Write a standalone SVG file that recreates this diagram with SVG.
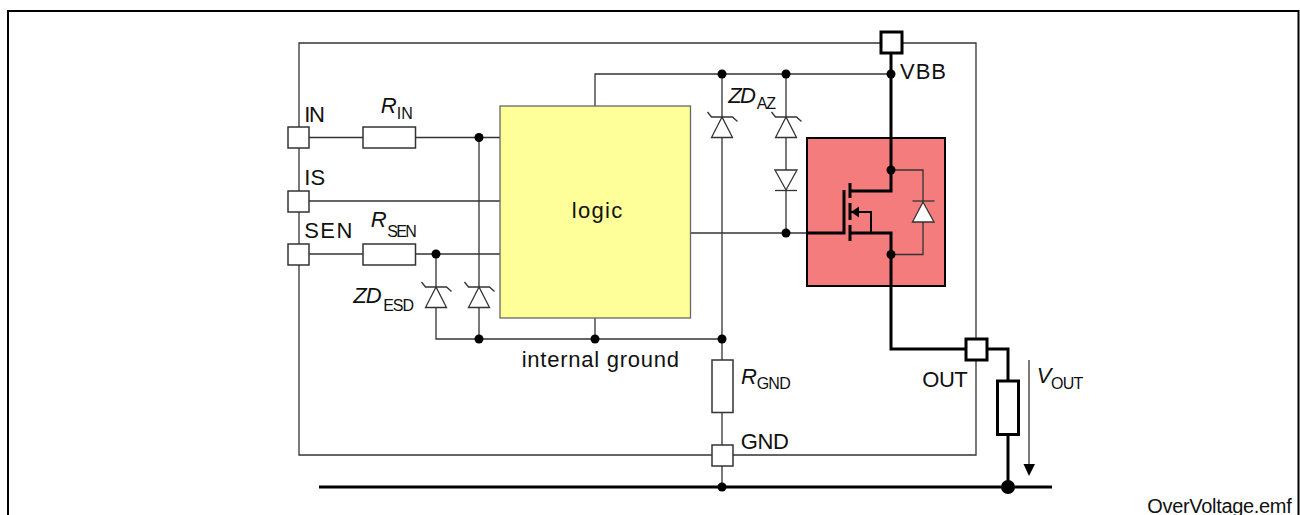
<svg xmlns="http://www.w3.org/2000/svg" width="1300" height="515" viewBox="0 0 1300 515">
<style>
text{font-family:"Liberation Sans",Arial,sans-serif;font-size:22px;fill:#111}
.i{font-style:italic}
.s{font-size:16px}
.f{font-size:20px}
.w{fill:none;stroke:#333;stroke-width:1.3}
.t{fill:none;stroke:#000;stroke-width:3}
.m{fill:none;stroke:#000;stroke-width:2}
.d{fill:#000;stroke:none}
.c{fill:#fff;stroke:#333;stroke-width:1.3}
.p{fill:#fff;stroke:#333;stroke-width:1.5}
.pt{fill:#fff;stroke:#000;stroke-width:3}
</style>
<defs>
<g id="zener"><path class="c" d="M0 0L-10.5 20.5H10.5Z"/><path class="w" d="M-14.5 -5L-10.5 0H10.5L15.500 4.500"/></g>
<circle id="j" class="d" r="4.500"/>
</defs>
<g id="frame"><path d="M8 515V11H1298.500V515" fill="none" stroke="#000" stroke-width="2"/></g>
<g id="connectors">
<path class="w" d="M299 127V43H881M902 43H976V339M976 360V455H733M712 455H299V265M299 244V212M299 191V148"/>
<path class="w" d="M309 137.500H363M415 137.500H500M309 201H500M309 254H363M415 254H500"/>
<path class="w" d="M479 137.500V287M479 307V339M436 254V287M436 307V339H722"/>
<path class="w" d="M595 106V74H891M595 318V339"/>
<path class="w" d="M722 74V117M722 138V360M722 412.500V445M722 466V487"/>
<path class="w" d="M786 74V117M786 138V170M786 191V233"/>
<path class="w" d="M691 233H807"/>
<path class="t" d="M891 53V138M891 286V349H966M987 349H1008V381M1008 435V487"/>
<path class="t" d="M319 487H1052"/>
<path class="w" d="M1029 360V465"/>
<path class="d" d="M1023.500 464H1035L1029 476Z"/>
</g>
<g id="logic"><rect x="500" y="106" width="190.500" height="212" fill="#ffff99" stroke="#666" stroke-width="1.300"/><text x="571.700" y="217.700" textLength="50.600">logic</text></g>
<g id="mosfet">
<rect x="807" y="138" width="138" height="148" fill="#f47c7c" stroke="#000" stroke-width="2"/>
<path class="t" d="M891 138V191H850M807 233H844V190M850 233H891V286"/>
<path class="t" d="M850 183V198M850 203V220M850 225V241"/>
<path class="m" d="M850 212H871V233"/>
<path class="d" d="M851 212L859 206.500V217.500Z"/>
<path class="w" d="M891 170H923V202M923 222V254.500H891"/>
<path class="c" d="M923 202L912.500 222H934Z"/>
<path class="w" d="M912.500 201H934.500"/>
</g>
<g id="diode-az"><path class="c" d="M775 170H797L786 190Z"/><path class="w" d="M775 190.500H797"/></g>
<g id="zd-az"><use href="#zener" x="786" y="117"/></g>
<g id="zd-main"><use href="#zener" x="722" y="117"/></g>
<g id="zd-esd-1"><use href="#zener" x="436" y="287"/></g>
<g id="zd-esd-2"><use href="#zener" x="479" y="287"/></g>
<g id="junctions">
<use href="#j" x="479" y="137.500"/><use href="#j" x="436" y="254"/><use href="#j" x="479" y="339"/><use href="#j" x="595" y="339"/><use href="#j" x="722" y="339"/>
<use href="#j" x="722" y="74"/><use href="#j" x="786" y="74"/><use href="#j" x="891" y="74"/><use href="#j" x="786" y="233"/>
<use href="#j" x="891" y="170"/><use href="#j" x="891" y="254.500"/><use href="#j" x="722" y="487"/>
<circle class="d" cx="1008" cy="487" r="7"/>
</g>
<g id="r-in"><rect class="p" x="363" y="127" width="52.500" height="21"/><text class="i" x="380.700" y="112.700">R</text><text class="s" x="396.700" y="119">IN</text></g>
<g id="r-sen"><rect class="p" x="363" y="244" width="52.500" height="21"/><text class="i" x="370.700" y="227">R</text><text class="s" x="387.300" y="237" textLength="29.400">SEN</text></g>
<g id="r-gnd"><rect class="p" x="712" y="360" width="21" height="52.500"/><text class="i" x="741" y="384">R</text><text class="s" x="756.700" y="389.300" textLength="34">GND</text></g>
<g id="r-load"><rect class="pt" x="997.500" y="381" width="21" height="53.500"/></g>
<g id="pad-in"><rect class="p" x="288" y="127" width="21" height="21"/><text x="304.300" y="121.700" textLength="20.600">IN</text></g>
<g id="pad-is"><rect class="p" x="288" y="191" width="21" height="21"/><text x="304.300" y="185" textLength="21">IS</text></g>
<g id="pad-sen"><rect class="p" x="288" y="244" width="21" height="21"/><text x="304.300" y="237.700" textLength="48">SEN</text></g>
<g id="pad-gnd"><rect class="p" x="712" y="445" width="21" height="21"/><text x="740.700" y="449.300" textLength="48.300">GND</text></g>
<g id="pad-vbb"><rect class="pt" x="881" y="32" width="21" height="21"/><text x="900" y="79.300" textLength="46">VBB</text></g>
<g id="pad-out"><rect class="pt" x="966" y="339" width="21" height="21"/><text x="922.300" y="386.700" textLength="45.400">OUT</text></g>
<g id="labels">
<text class="i" x="353.300" y="303" textLength="28.400">ZD</text><text class="s" x="383.300" y="310.700" textLength="30.700">ESD</text>
<text class="i" x="728.300" y="102.700" textLength="27.700">ZD</text><text class="s" x="756.700" y="108.700" textLength="19.300">AZ</text>
<text class="i" x="1036.700" y="383">V</text><text class="s" x="1051" y="389.300" textLength="32.300">OUT</text>
<text x="521.700" y="366.700" textLength="157.300">internal ground</text>
<text class="f" x="1147.300" y="513.300" textLength="144.400">OverVoltage.emf</text>
</g>
</svg>
